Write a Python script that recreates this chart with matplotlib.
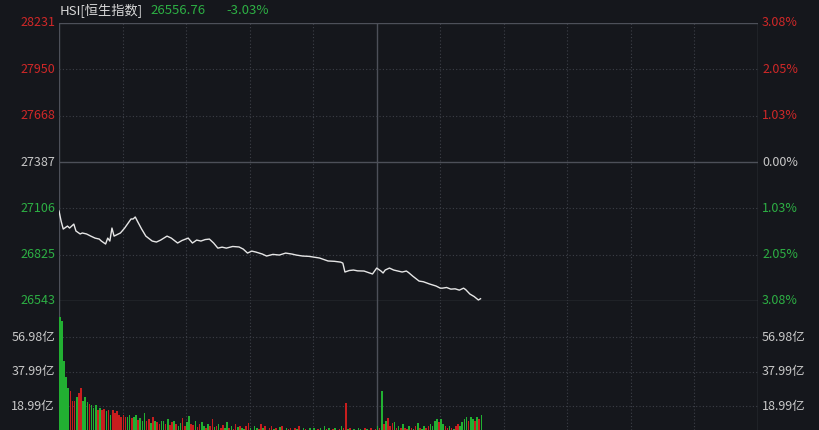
import matplotlib.pyplot as plt
from matplotlib.transforms import blended_transform_factory

plt.rcParams['font.family'] = ['Noto Sans CJK SC', 'DejaVu Sans']

# intraday minute index (0 = 9:30, 150 = 12:00 / 13:00, 330 = 16:00)
minutes = [0, 1, 2, 4, 5, 7, 8, 10, 11, 13, 15, 17, 19, 20, 22, 23, 24, 25, 26, 29,
           31, 34, 35, 36, 37, 39, 41, 44, 46, 48, 51, 53, 56, 58, 61, 63, 65, 67, 69, 71,
           73, 75, 77, 79, 82, 85, 87, 89, 91, 93, 96, 98, 101, 104, 107, 110, 112, 115, 118, 120,
           123, 127, 130, 133, 134, 135, 137, 139, 141, 144, 146, 148, 150, 152, 153, 154, 156, 158, 160, 162,
           164, 165, 167, 170, 172, 175, 178, 180, 181, 183, 185, 187, 189, 191, 192, 194, 196, 198, 199]
prices = [27089, 27028, 26980, 26998, 26986, 27010, 26968, 26950, 26956, 26950, 26937, 26925, 26919, 26907, 26889, 26925, 26907, 26986, 26937, 26956,
          26986, 27041, 27041, 27053, 27028, 26980, 26937, 26907, 26901, 26913, 26937, 26925, 26895, 26910, 26925, 26895, 26913, 26907, 26916, 26919,
          26895, 26864, 26870, 26864, 26874, 26871, 26858, 26834, 26846, 26840, 26828, 26816, 26826, 26822, 26834, 26828, 26822, 26816, 26814, 26810,
          26804, 26786, 26784, 26779, 26773, 26719, 26728, 26731, 26726, 26725, 26716, 26707, 26743, 26725, 26713, 26731, 26743, 26731, 26725, 26719,
          26725, 26716, 26694, 26664, 26660, 26646, 26634, 26621, 26621, 26625, 26615, 26617, 26609, 26621, 26612, 26585, 26570, 26549, 26556.76]

# turnover per minute (亿), m = 0..199
volumes = [68, 66, 44, 35, 29, 27, 22, 22, 24, 26,
           29, 22, 24, 21, 20, 19.5, 18, 19.5, 17, 18,
           17, 17.5, 16.5, 17, 14, 17, 15, 16, 14, 13,
           14, 13, 13, 14, 12.5, 13, 14, 11.5, 12.5, 10.5,
           15, 11, 12, 9.5, 13, 11, 10, 9, 11, 10.5,
           9, 12, 8.5, 10, 11, 9, 8, 9.5, 12.5, 8,
           10, 13.5, 9, 8.5, 11, 7.5, 9, 10, 8, 7,
           9, 8, 12, 7.5, 8, 9, 7, 8.5, 7, 10,
           7, 8, 6.5, 9, 7.5, 8, 7, 6.5, 8, 9.5,
           7, 6, 8, 7, 6.5, 9, 7, 8, 6, 7,
           8, 6.5, 7, 6, 7.5, 8, 6, 7, 6.5, 7,
           6, 7, 6.5, 8, 6, 7, 6.5, 6, 7, 6,
           7, 6, 6.5, 7, 6, 8, 6.5, 7, 6, 6.5,
           7, 6, 6.5, 8, 7, 20.6, 6.5, 7, 6, 6.5,
           6, 7, 6.5, 6, 7, 6.5, 6, 7, 6, 6.5,
           8, 7, 27, 9, 11, 12.5, 8, 9.6, 10, 7,
           8, 7, 9, 7, 6.5, 8, 7, 6.5, 8, 9.6,
           7, 6.5, 8, 7, 8, 9, 8, 11, 12, 10,
           12, 9, 8, 7, 8, 7, 6.5, 8, 9, 8,
           10, 12, 13, 11, 13, 12, 11, 13, 12, 14]
vol_dirs = ("GGGGGRRRGRRGGGRGGGRG" "RRGRGRRRRRRRGGRGGRGG" "GRRGRGRRGGRGRRGRGGRR"
            "GGRRGRRGGRGRRGRGRRGG" "RGRRGRGGRRGRGGRRGRGR" "RGRGGRRGRRGRGRGGRRGR"
            "GRRGRGRGRRGRRGRRGRGG" "RGGRRGRRGRGRGRGRRRGR" "GRGRRGRGRGRGGRRGGGGR"
            "GGRRGRGRRGGGGRGGRGRG")

price_ticks = [28231, 27950, 27668, 27387, 27106, 26825, 26543]
pct_labels = ['3.08%', '2.05%', '1.03%', '0.00%', '1.03%', '2.05%', '3.08%']
vol_ticks = [56.98, 37.99, 18.99]
vol_labels = ['56.98亿', '37.99亿', '18.99亿']
half_hours = [30, 60, 90, 120, 180, 210, 240, 270, 300]
prev_close = 27387
last_price = 26556.76
last_pct = '-3.03%'

BG = '#15171c'
RED = '#d02828'
GREEN = '#2db044'
BAR_RED = '#c81e1e'
BAR_GREEN = '#22b032'
GRAY = '#c8c8c8'
GRID = '#3d4048'
SOLID = '#4d5059'

fig = plt.figure(figsize=(8.2, 4.3), dpi=100, facecolor=BG)
L, R = 59 / 820, 758 / 820
ax = fig.add_axes([L, 1 - 301 / 430, R - L, 278 / 430], facecolor=BG)
axv = fig.add_axes([L, 0, R - L, 129 / 430], facecolor=BG)

for a in (ax, axv):
    a.set_xlim(0, 330)
    a.set_xticks([])
    a.set_yticks([])
    for s in a.spines.values():
        s.set_visible(False)
    for m in half_hours:
        a.axvline(m, color=GRID, lw=0.8, ls=(0, (1, 2)), zorder=1)
    a.axvline(150, color=SOLID, lw=1, zorder=1)
    a.axvline(0, color=SOLID, lw=1, zorder=1)
    a.axvline(330, color=SOLID, lw=1, zorder=1)

# price panel
ax.set_ylim(price_ticks[-1], price_ticks[0])
for p in price_ticks[1:-1]:
    if p != prev_close:
        ax.axhline(p, color=GRID, lw=0.8, ls=(0, (1, 2)), zorder=1)
ax.axhline(prev_close, color=SOLID, lw=1, zorder=1)
ax.axhline(price_ticks[0], color=SOLID, lw=1, zorder=1)
ax.axhline(price_ticks[-1], color=SOLID, lw=1, zorder=1)
ax.plot(minutes, prices, color='#e6e6e6', lw=1, zorder=3)

tl = blended_transform_factory(fig.transFigure, ax.transData)
for p, lab in zip(price_ticks, pct_labels):
    c = RED if p > prev_close else (GREEN if p < prev_close else GRAY)
    ax.text(55 / 820, p, str(p), transform=tl, ha='right', va='center', color=c, fontsize=9)
    ax.text(762 / 820, p, lab, transform=tl, ha='left', va='center', color=c, fontsize=9)

# volume panel
axv.set_ylim(5.8, 76.8)
for v in vol_ticks:
    axv.axhline(v, color=GRID, lw=0.8, ls=(0, (1, 2)), zorder=1)
bar_x = list(range(len(volumes)))
bar_c = [BAR_RED if vol_dirs[i] == 'R' else BAR_GREEN for i in bar_x]
axv.bar(bar_x, volumes, width=0.75, align='edge', color=bar_c, linewidth=0, zorder=3)
tv = blended_transform_factory(fig.transFigure, axv.transData)
for v, lab in zip(vol_ticks, vol_labels):
    axv.text(55 / 820, v, lab, transform=tv, ha='right', va='center', color=GRAY, fontsize=9)
    axv.text(762 / 820, v, lab, transform=tv, ha='left', va='center', color=GRAY, fontsize=9)

# header
fig.text(60 / 820, 1 - 11 / 430, 'HSI[恒生指数]', color='#d8d8d8', fontsize=9.5, va='center')
fig.text(150 / 820, 1 - 11 / 430, f'{last_price:.2f}', color=GREEN, fontsize=9.5, va='center')
fig.text(226 / 820, 1 - 11 / 430, last_pct, color=GREEN, fontsize=9.5, va='center')

fig.savefig('out.png', dpi=100, facecolor=BG)
